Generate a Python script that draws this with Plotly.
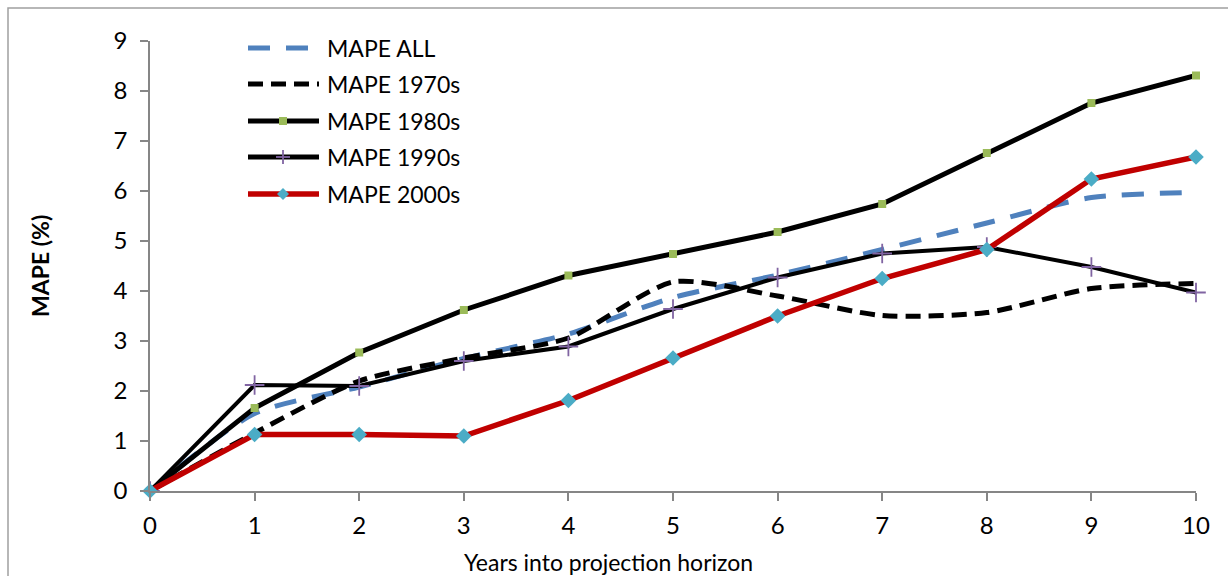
import plotly.graph_objects as go

# Projection horizon (years) and MAPE (%) per forecast vintage
years = [0, 1, 2, 3, 4, 5, 6, 7, 8, 9, 10]
mape_all = [0, 1.55, 2.08, 2.65, 3.14, 3.87, 4.32, 4.83, 5.36, 5.87, 5.97]
mape_1970s = [0, 1.16, 2.2, 2.66, 3.06, 4.18, 3.9, 3.51, 3.57, 4.05, 4.15]
mape_1980s = [0, 1.66, 2.77, 3.62, 4.31, 4.74, 5.18, 5.74, 6.76, 7.76, 8.31]
mape_1990s = [0, 2.12, 2.1, 2.6, 2.89, 3.64, 4.27, 4.75, 4.88, 4.48, 3.97]
mape_2000s = [0, 1.13, 1.13, 1.1, 1.81, 2.66, 3.5, 4.25, 4.83, 6.24, 6.68]

x_ticks = list(range(0, 11))
y_ticks = list(range(0, 10))

FONT = "Lato"
AXIS_GREY = "#868686"
BLUE = "#4F81BD"
RED = "#C00000"
GREEN = "#9BBB59"
PURPLE = "#8064A2"
CYAN = "#4BACC6"

# Figure geometry (pixels)
FIG_W, FIG_H = 1228, 576
L, R, T, B = 150, 1196, 41, 491
PW, PH = R - L, B - T


def px(x):
    return (x - L) / PW


def py(y):
    return (B - y) / PH


fig = go.Figure()

fig.add_trace(go.Scatter(
    x=years, y=mape_all, name="MAPE ALL", mode="lines",
    line=dict(color=BLUE, width=5, dash="22px,16px", shape="spline", smoothing=0.7),
))
fig.add_trace(go.Scatter(
    x=years, y=mape_1970s, name="MAPE 1970s", mode="lines",
    line=dict(color="black", width=5, dash="15px,8px", shape="spline", smoothing=0.7),
))
fig.add_trace(go.Scatter(
    x=years, y=mape_1980s, name="MAPE 1980s", mode="lines+markers",
    line=dict(color="black", width=5),
    marker=dict(symbol="square", size=8, color=GREEN),
    cliponaxis=False,
))
fig.add_trace(go.Scatter(
    x=years, y=mape_1990s, name="MAPE 1990s", mode="lines+markers",
    line=dict(color="black", width=4),
    marker=dict(symbol="cross-thin", size=14, line=dict(color=PURPLE, width=1.8)),
    cliponaxis=False,
))
fig.add_trace(go.Scatter(
    x=years, y=mape_2000s, name="MAPE 2000s", mode="lines+markers",
    line=dict(color=RED, width=5.5),
    marker=dict(symbol="diamond", size=12, color=CYAN),
    cliponaxis=False,
))

shapes = []
annotations = []

# Chart-area border
shapes.append(dict(type="rect", xref="paper", yref="paper",
                   x0=px(8), x1=px(FIG_W + 20), y0=py(FIG_H + 20), y1=py(8),
                   line=dict(color="#A0A0A0", width=1.5), fillcolor="rgba(0,0,0,0)",
                   layer="below"))

# Legend drawn beside the upper-left of the plot
legend_items = [
    ("MAPE ALL", BLUE, 5, "22px,16px", None),
    ("MAPE 1970s", "black", 5, "15px,8px", None),
    ("MAPE 1980s", "black", 5, "solid", "square"),
    ("MAPE 1990s", "black", 5, "solid", "plus"),
    ("MAPE 2000s", RED, 5.5, "solid", "diamond"),
]
row_y = [48, 84, 121, 157, 194]
lx0, lx1, mx, tx = 248, 319, 283, 325
for (label, color, width, dash, marker), yy in zip(legend_items, row_y):
    shapes.append(dict(type="line", xref="paper", yref="paper",
                       x0=px(lx0), x1=px(lx1), y0=py(yy), y1=py(yy),
                       line=dict(color=color, width=width, dash=dash)))
    if marker == "square":
        s = 4
        shapes.append(dict(type="rect", xref="paper", yref="paper",
                           x0=px(mx - s), x1=px(mx + s), y0=py(yy + s), y1=py(yy - s),
                           line=dict(width=0), fillcolor=GREEN))
    elif marker == "plus":
        s = 7
        shapes.append(dict(type="line", xref="paper", yref="paper",
                           x0=px(mx - s), x1=px(mx + s), y0=py(yy), y1=py(yy),
                           line=dict(color=PURPLE, width=1.8)))
        shapes.append(dict(type="line", xref="paper", yref="paper",
                           x0=px(mx), x1=px(mx), y0=py(yy - s), y1=py(yy + s),
                           line=dict(color=PURPLE, width=1.8)))
    elif marker == "diamond":
        s = 6
        path = (f"M {px(mx - s)} {py(yy)} L {px(mx)} {py(yy - s)} "
                f"L {px(mx + s)} {py(yy)} L {px(mx)} {py(yy + s)} Z")
        shapes.append(dict(type="path", xref="paper", yref="paper", path=path,
                           line=dict(width=0), fillcolor=CYAN))
    annotations.append(dict(text=label, xref="paper", yref="paper",
                            x=px(tx), y=py(yy), xanchor="left", yanchor="middle",
                            showarrow=False, font=dict(family=FONT, size=23, color="black")))

# Axis titles
annotations.append(dict(text="Years into projection horizon", xref="paper", yref="paper",
                        x=px(608), y=py(562), xanchor="center", yanchor="middle",
                        showarrow=False, font=dict(family=FONT, size=23, color="black")))
annotations.append(dict(text="<b>MAPE (%)</b>", xref="paper", yref="paper",
                        x=px(40), y=0.5, xanchor="center", yanchor="middle", textangle=-90,
                        showarrow=False, font=dict(family=FONT, size=23, color="black")))

fig.update_layout(
    width=FIG_W, height=FIG_H,
    margin=dict(l=L, r=FIG_W - R, t=T, b=FIG_H - B, pad=0),
    paper_bgcolor="white", plot_bgcolor="white",
    showlegend=False,
    font=dict(family=FONT, size=23, color="black"),
    shapes=shapes, annotations=annotations,
    xaxis=dict(range=[0, 10], tickvals=x_ticks, ticktext=[str(v) for v in x_ticks],
               showgrid=False, zeroline=False, showline=True, linecolor=AXIS_GREY,
               linewidth=1.5, ticks="outside", ticklen=8, tickcolor=AXIS_GREY,
               tickwidth=1.5, ticklabelstandoff=4,
               tickfont=dict(family=FONT, size=24, color="black")),
    yaxis=dict(range=[0, 9], tickvals=y_ticks, ticktext=[str(v) for v in y_ticks],
               showgrid=False, zeroline=False, showline=True, linecolor=AXIS_GREY,
               linewidth=1.5, ticks="outside", ticklen=8, tickcolor=AXIS_GREY,
               tickwidth=1.5, ticklabelstandoff=8,
               tickfont=dict(family=FONT, size=24, color="black")),
)

fig.write_html("out.html")
